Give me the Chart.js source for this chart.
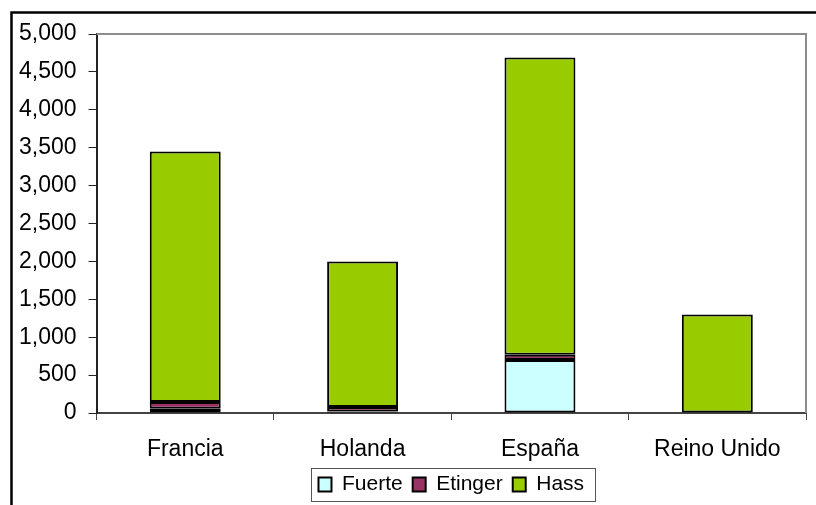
<!DOCTYPE html>
<html lang="es">
<head>
<meta charset="UTF-8">
<title>Aguacate por variedad</title>
<style>
  html, body { margin: 0; padding: 0; background: #fff; }
  #wrap { width: 816px; height: 505px; }
</style>
</head>
<body>
<div id="wrap"><canvas id="myChart" width="816" height="505"></canvas></div>

<script src="https://cdn.jsdelivr.net/npm/chart.js@4"></script>
<script>
    // valores (Reino Unido solo tiene Hass)
    var paises = ["Francia", "Holanda", "España", "Reino Unido"];
    var fuerte = [55, 20, 700, null];
    var etinger = [90, 60, 70, null];
    var hass = [3305, 1920, 3920, 1300];

    // borde exterior negro, marco gris del area de trazado y caja de la leyenda
    var marcos = {
        id: 'marcos',
        afterDraw: function (chart) {
            var ctx = chart.ctx, a = chart.chartArea;
            ctx.save();
            ctx.strokeStyle = '#000';
            ctx.lineWidth = 2.5;
            ctx.strokeRect(11.5, 12.5, 900, 600);

            ctx.strokeStyle = '#8c8c8c';
            ctx.lineWidth = 2;
            ctx.beginPath();
            ctx.moveTo(a.left, a.top);
            ctx.lineTo(a.right, a.top);
            ctx.lineTo(a.right, a.bottom);
            ctx.stroke();

            var hb = chart.legend.legendHitBoxes;
            if (hb && hb.length) {
                var last = hb[hb.length - 1];
                var l = hb[0].left, r = last.left + last.width;
                ctx.strokeStyle = '#555';
                ctx.lineWidth = 1;
                ctx.strokeRect(Math.round(l - 7) + 0.5, Math.round(hb[0].top - 6) + 0.5, Math.round(r - l + 18), 33);
            }
            ctx.restore();
        }
    };

    var ctx = document.getElementById('myChart').getContext('2d');
    var myChart = new Chart(ctx, {
        type: 'bar',
        data: {
            labels: paises,
            datasets: [
                { label: 'Fuerte', data: fuerte, backgroundColor: '#ccffff' },
                { label: 'Etinger', data: etinger, backgroundColor: '#993366' },
                { label: 'Hass', data: hass, backgroundColor: '#99cc00' }
            ]
        },
        options: {
            responsive: false,
            animation: false,
            layout: { padding: { left: 7, right: 10, top: 34, bottom: 0 } },
            datasets: {
                bar: {
                    borderColor: '#000',
                    borderWidth: 2,
                    borderSkipped: false,
                    barPercentage: 0.4,
                    categoryPercentage: 1
                }
            },
            plugins: {
                legend: {
                    position: 'bottom',
                    fullSize: false,
                    labels: {
                        color: '#000',
                        font: { family: 'Liberation Sans, Arial', size: 21 },
                        boxWidth: 13,
                        boxHeight: 14,
                        padding: 10,
                        generateLabels: function (chart) {
                            return chart.data.datasets.map(function (ds, i) {
                                return {
                                    text: ds.label,
                                    fillStyle: ds.backgroundColor,
                                    strokeStyle: '#000',
                                    lineWidth: 2,
                                    datasetIndex: i,
                                    fontColor: '#000'
                                };
                            });
                        }
                    }
                },
                tooltip: { enabled: false }
            },
            scales: {
                x: {
                    stacked: true,
                    afterFit: function (scale) { scale.height = 51; },
                    grid: { drawOnChartArea: false, drawTicks: true, tickLength: 7, color: '#444' },
                    border: { color: '#444', width: 2 },
                    ticks: {
                        color: '#000',
                        padding: 16,
                        font: { family: 'Liberation Sans, Arial', size: 23 }
                    }
                },
                y: {
                    stacked: true,
                    min: 0,
                    max: 5000,
                    grid: { drawOnChartArea: false, drawTicks: true, tickLength: 8, color: '#222' },
                    border: { color: '#222', width: 2 },
                    ticks: {
                        stepSize: 500,
                        color: '#000',
                        padding: 12,
                        font: { family: 'Liberation Sans, Arial', size: 23 },
                        callback: function (v) { return v.toLocaleString('en-US'); }
                    }
                }
            }
        },
        plugins: [marcos]
    });
</script>
</body>
</html>
